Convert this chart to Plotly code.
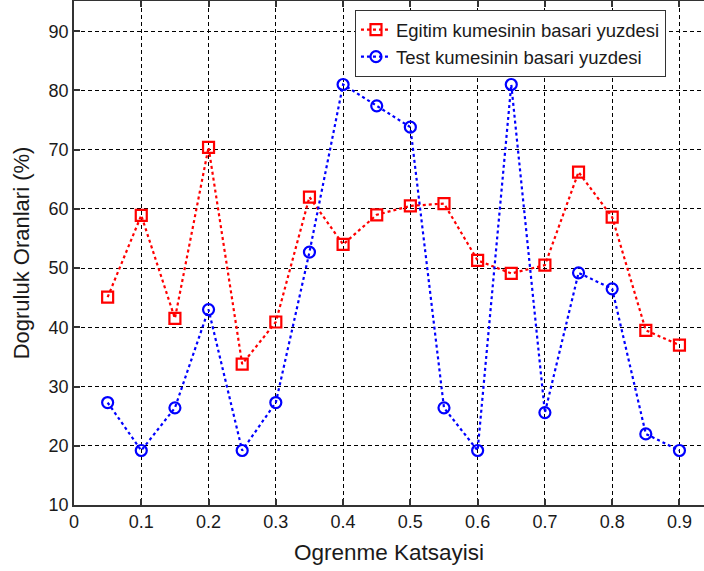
import plotly.graph_objects as go

# Learning rates (x) and accuracy percentages for training and test sets
ogrenme = [0.05, 0.10, 0.15, 0.20, 0.25, 0.30, 0.35, 0.40, 0.45,
           0.50, 0.55, 0.60, 0.65, 0.70, 0.75, 0.80, 0.85, 0.90]
egitim = [45.1, 58.9, 41.5, 70.4, 33.8, 40.9, 62.0, 54.0, 59.0,
          60.5, 60.9, 51.3, 49.1, 50.5, 66.2, 58.6, 39.5, 37.0]
test = [27.3, 19.2, 26.4, 43.0, 19.2, 27.3, 52.7, 81.0, 77.4,
        73.8, 26.4, 19.2, 81.0, 25.6, 49.2, 46.5, 22.0, 19.2]

x_ticks = [0, 0.1, 0.2, 0.3, 0.4, 0.5, 0.6, 0.7, 0.8, 0.9]
x_tick_labels = ["0", "0.1", "0.2", "0.3", "0.4", "0.5", "0.6", "0.7", "0.8", "0.9"]
y_ticks = [10, 20, 30, 40, 50, 60, 70, 80, 90]

font_family = "Liberation Sans, Arial, sans-serif"

fig = go.Figure()
fig.add_trace(go.Scatter(
    x=ogrenme, y=egitim, mode="lines+markers",
    name="Egitim kumesinin basari yuzdesi",
    line=dict(color="#ff0000", width=2.2, dash="dot"),
    marker=dict(symbol="square-open", size=11, color="#ff0000",
                line=dict(width=2.2, color="#ff0000")),
))
fig.add_trace(go.Scatter(
    x=ogrenme, y=test, mode="lines+markers",
    name="Test kumesinin basari yuzdesi",
    line=dict(color="#0000ff", width=2.2, dash="dot"),
    marker=dict(symbol="circle-open", size=11, color="#0000ff",
                line=dict(width=2.2, color="#0000ff")),
))

axis_common = dict(
    showgrid=True, gridcolor="#000000", gridwidth=1, griddash="4px,3px",
    showline=True, linecolor="#333333", linewidth=1.5,
    ticks="inside", ticklen=6, tickcolor="#333333", tickwidth=1.5,
    tickfont=dict(family=font_family, size=18, color="#1a1a1a"),
    zeroline=False,
)

fig.update_xaxes(
    range=[0, 0.9365], tickvals=x_ticks, ticktext=x_tick_labels,
    mirror="allticks",
    title=dict(text="Ogrenme Katsayisi", standoff=13,
               font=dict(family=font_family, size=22.5, color="#1a1a1a")),
    **axis_common,
)
fig.update_yaxes(
    range=[10, 95.1], tickvals=y_ticks,
    title=dict(text="Dogruluk Oranlari (%)", standoff=13,
               font=dict(family=font_family, size=22, color="#1a1a1a")),
    **axis_common,
)

fig.update_layout(
    width=704, height=571,
    margin=dict(l=74, r=0, t=1, b=66),
    paper_bgcolor="white", plot_bgcolor="white",
    showlegend=True,
    legend=dict(
        x=0.446, y=0.982, xanchor="left", yanchor="top",
        bgcolor="white", bordercolor="#333333", borderwidth=1,
        font=dict(family=font_family, size=18.5, color="#1a1a1a"),
        tracegroupgap=0, itemwidth=30,
    ),
)

fig.write_html("out.html")
